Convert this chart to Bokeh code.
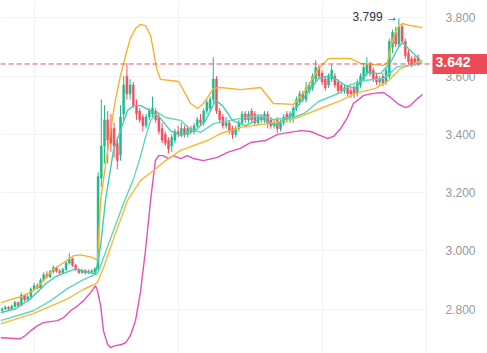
from bokeh.plotting import figure
from bokeh.models import (Range1d, FixedTicker, PrintfTickFormatter, Span, Label, Grid,
                          ColumnDataSource, BoxAnnotation)
from bokeh.embed import file_html
from bokeh.resources import INLINE

# ---- candles (index, open, high, low, close) ----
opens = [2.795, 2.800, 2.806, 2.801, 2.809, 2.822, 2.812, 2.848, 2.832, 2.842,
         2.868, 2.880, 2.872, 2.898, 2.918, 2.910, 2.928, 2.942, 2.930, 2.925,
         2.936, 2.958, 2.972, 2.950, 2.936, 2.925, 2.932, 2.924, 2.930, 2.926,
         2.938, 3.250, 3.360, 3.450, 3.420, 3.420, 3.370, 3.330, 3.470, 3.600,
         3.540, 3.570, 3.500, 3.480, 3.460, 3.430, 3.460, 3.470, 3.480, 3.460,
         3.420, 3.400, 3.380, 3.360, 3.380, 3.410, 3.400, 3.420, 3.400, 3.420,
         3.410, 3.430, 3.450, 3.440, 3.480, 3.490, 3.520, 3.590, 3.480, 3.460,
         3.430, 3.440, 3.420, 3.400, 3.420, 3.440, 3.470, 3.450, 3.480, 3.470,
         3.440, 3.460, 3.450, 3.470, 3.450, 3.430, 3.450, 3.420, 3.440, 3.470,
         3.450, 3.460, 3.490, 3.510, 3.540, 3.520, 3.550, 3.560, 3.590, 3.630,
         3.610, 3.590, 3.570, 3.590, 3.600, 3.580, 3.570, 3.550, 3.560, 3.550,
         3.560, 3.540, 3.570, 3.590, 3.610, 3.640, 3.620, 3.600, 3.580, 3.600,
         3.580, 3.600, 3.700, 3.750, 3.710, 3.770, 3.720, 3.680, 3.660, 3.660,
         3.665]
highs = [2.806, 2.812, 2.810, 2.815, 2.828, 2.826, 2.856, 2.852, 2.850, 2.874,
         2.890, 2.888, 2.905, 2.926, 2.930, 2.935, 2.950, 2.946, 2.938, 2.942,
         2.965, 2.992, 2.976, 2.955, 2.940, 2.938, 2.937, 2.936, 2.938, 2.944,
         3.270, 3.520, 3.500, 3.480, 3.470, 3.440, 3.390, 3.500, 3.600, 3.645,
         3.590, 3.580, 3.520, 3.490, 3.470, 3.470, 3.490, 3.530, 3.490, 3.470,
         3.440, 3.410, 3.390, 3.400, 3.420, 3.430, 3.440, 3.430, 3.430, 3.430,
         3.440, 3.460, 3.470, 3.490, 3.520, 3.530, 3.665, 3.600, 3.490, 3.470,
         3.460, 3.450, 3.430, 3.430, 3.450, 3.480, 3.480, 3.480, 3.490, 3.480,
         3.470, 3.470, 3.480, 3.480, 3.460, 3.450, 3.460, 3.450, 3.470, 3.480,
         3.480, 3.500, 3.530, 3.550, 3.550, 3.580, 3.580, 3.610, 3.655, 3.640,
         3.620, 3.600, 3.610, 3.640, 3.610, 3.590, 3.580, 3.570, 3.570, 3.560,
         3.570, 3.590, 3.610, 3.640, 3.665, 3.650, 3.630, 3.610, 3.600, 3.610,
         3.630, 3.730, 3.760, 3.770, 3.799, 3.780, 3.730, 3.690, 3.670, 3.670,
         3.675]
lows = [2.790, 2.797, 2.796, 2.798, 2.805, 2.806, 2.810, 2.826, 2.828, 2.838,
        2.862, 2.868, 2.868, 2.894, 2.905, 2.906, 2.922, 2.925, 2.918, 2.920,
        2.930, 2.952, 2.945, 2.930, 2.920, 2.921, 2.919, 2.920, 2.922, 2.922,
        2.930, 3.220, 3.300, 3.300, 3.340, 3.320, 3.280, 3.310, 3.450, 3.520,
        3.520, 3.490, 3.450, 3.440, 3.410, 3.420, 3.450, 3.460, 3.440, 3.400,
        3.370, 3.360, 3.335, 3.340, 3.370, 3.390, 3.390, 3.390, 3.390, 3.400,
        3.400, 3.420, 3.430, 3.430, 3.470, 3.480, 3.510, 3.470, 3.440, 3.420,
        3.420, 3.400, 3.385, 3.390, 3.410, 3.430, 3.440, 3.440, 3.440, 3.430,
        3.430, 3.440, 3.440, 3.420, 3.420, 3.420, 3.405, 3.410, 3.430, 3.440,
        3.440, 3.440, 3.480, 3.500, 3.510, 3.510, 3.540, 3.550, 3.580, 3.590,
        3.570, 3.550, 3.560, 3.580, 3.560, 3.540, 3.540, 3.540, 3.530, 3.525,
        3.525, 3.530, 3.560, 3.580, 3.600, 3.600, 3.580, 3.570, 3.570, 3.565,
        3.570, 3.590, 3.680, 3.700, 3.700, 3.710, 3.660, 3.640, 3.630, 3.635,
        3.635]
closes = [2.800, 2.806, 2.801, 2.809, 2.822, 2.812, 2.848, 2.832, 2.842, 2.868,
          2.880, 2.872, 2.898, 2.918, 2.910, 2.928, 2.942, 2.930, 2.925, 2.936,
          2.958, 2.972, 2.950, 2.936, 2.925, 2.932, 2.924, 2.930, 2.926, 2.938,
          3.255, 3.360, 3.450, 3.380, 3.370, 3.360, 3.310, 3.460, 3.570, 3.540,
          3.570, 3.500, 3.470, 3.450, 3.430, 3.460, 3.480, 3.490, 3.450, 3.410,
          3.380, 3.370, 3.350, 3.390, 3.410, 3.400, 3.420, 3.400, 3.420, 3.410,
          3.430, 3.450, 3.440, 3.480, 3.510, 3.520, 3.590, 3.480, 3.450, 3.430,
          3.440, 3.410, 3.400, 3.420, 3.440, 3.470, 3.450, 3.470, 3.450, 3.440,
          3.460, 3.450, 3.470, 3.440, 3.430, 3.440, 3.420, 3.440, 3.460, 3.450,
          3.470, 3.490, 3.520, 3.540, 3.520, 3.560, 3.570, 3.600, 3.630, 3.600,
          3.580, 3.560, 3.600, 3.620, 3.570, 3.550, 3.550, 3.560, 3.540, 3.540,
          3.540, 3.580, 3.600, 3.630, 3.640, 3.610, 3.590, 3.580, 3.590, 3.575,
          3.620, 3.720, 3.750, 3.710, 3.770, 3.720, 3.670, 3.650, 3.640, 3.645,
          3.642]
idx = list(range(len(closes)))

# ---- indicator lines (candle index, value) ----
bb_up_x = [-0.5, 2.6, 5.8, 9.8, 12.9, 16.1, 19.2, 22.3, 24.5, 27.6, 29.8, 30.8, 32.3, 33.9, 35.4,
           37.0, 38.6, 40.1, 41.7, 43.3, 44.8, 46.4, 47.3, 48.3, 49.5, 52.6, 55.1, 56.7, 58.9,
           61.1, 62.9, 66.1, 68.3, 74.5, 80.8, 84.8, 91.1, 94.8, 98.9, 102.0, 108.9, 112.0,
           119.2, 120.4, 122.0, 123.6, 125.1, 127.6, 131.4]
bb_up_y = [2.821, 2.832, 2.842, 2.863, 2.897, 2.938, 2.959, 2.983, 2.986, 2.979, 2.969, 3.173,
           3.293, 3.413, 3.517, 3.602, 3.671, 3.730, 3.764, 3.778, 3.774, 3.740, 3.688, 3.626,
           3.589, 3.585, 3.582, 3.551, 3.506, 3.489, 3.506, 3.558, 3.561, 3.554, 3.561, 3.506,
           3.503, 3.551, 3.626, 3.661, 3.661, 3.644, 3.637, 3.647, 3.723, 3.767, 3.781, 3.774,
           3.767]
bb_lo_x = [-0.5, 5.8, 7.3, 8.9, 11.1, 12.9, 17.3, 19.2, 21.4, 23.6, 25.4, 27.6, 29.2, 29.8,
           30.8, 31.7, 32.9, 33.9, 35.4, 37.0, 38.6, 40.1, 41.7, 43.3, 44.8, 46.4, 47.9, 48.9,
           50.4, 52.0, 53.6, 55.8, 57.9, 59.8, 62.9, 67.3, 70.4, 74.5, 77.6, 82.3, 86.1, 93.3,
           96.4, 99.5, 101.7, 103.6, 105.8, 107.9, 109.8, 113.0, 116.1, 119.2, 121.4, 123.6,
           126.1, 127.6, 129.8, 131.4]
bb_lo_y = [2.701, 2.698, 2.709, 2.725, 2.743, 2.753, 2.760, 2.770, 2.794, 2.811, 2.828, 2.856,
           2.880, 2.863, 2.811, 2.725, 2.680, 2.667, 2.674, 2.677, 2.684, 2.709, 2.760, 2.863,
           3.001, 3.173, 3.310, 3.327, 3.327, 3.317, 3.327, 3.317, 3.327, 3.317, 3.310, 3.321,
           3.338, 3.352, 3.372, 3.379, 3.400, 3.413, 3.410, 3.396, 3.386, 3.393, 3.420, 3.458,
           3.506, 3.534, 3.541, 3.544, 3.527, 3.506, 3.492, 3.499, 3.523, 3.537]
ma_mid_x = [-0.5, 9.8, 15.1, 20.4, 25.4, 29.8, 30.8, 32.3, 33.9, 37.9, 41.1, 43.3, 44.8, 46.4,
            48.6, 51.1, 55.8, 58.9, 62.0, 66.1, 74.5, 80.8, 84.8, 91.1, 94.8, 98.9, 105.8,
            108.9, 113.0, 119.2, 123.6, 127.6, 131.4]
ma_mid_y = [2.760, 2.794, 2.828, 2.870, 2.901, 2.922, 2.949, 2.994, 3.042, 3.162, 3.248, 3.327,
            3.389, 3.448, 3.475, 3.458, 3.448, 3.417, 3.407, 3.437, 3.455, 3.465, 3.451, 3.458,
            3.475, 3.513, 3.544, 3.571, 3.585, 3.592, 3.633, 3.637, 3.647]
ma_fast_x = [-0.5, 4.2, 8.9, 13.6, 16.7, 19.8, 22.9, 26.1, 29.2, 30.8, 32.3, 34.8, 37.0, 39.2,
             41.1, 43.3, 46.4, 49.5, 52.6, 55.8, 60.4, 63.6, 66.7, 68.9, 72.0, 76.1, 80.8,
             85.4, 90.1, 94.8, 98.9, 102.6, 107.3, 110.4, 114.2, 118.3, 121.4, 123.6, 125.1,
             127.6, 130.8]
ma_fast_y = [2.787, 2.801, 2.835, 2.887, 2.911, 2.925, 2.938, 2.928, 2.921, 3.018, 3.173, 3.345,
             3.413, 3.482, 3.499, 3.499, 3.482, 3.455, 3.413, 3.396, 3.413, 3.448, 3.517, 3.499,
             3.448, 3.430, 3.455, 3.430, 3.465, 3.534, 3.592, 3.602, 3.568, 3.558, 3.613, 3.609,
             3.647, 3.695, 3.716, 3.688, 3.654]
ma_slow_x = [-0.5, 9.8, 20.4, 25.4, 29.8, 31.7, 35.4, 39.2, 43.3, 47.3, 51.1, 55.8, 64.2, 68.3,
             74.5, 85.4, 91.7, 99.5, 105.8, 110.4, 116.7, 120.8, 124.5, 131.4]
ma_slow_y = [2.749, 2.784, 2.835, 2.867, 2.890, 2.942, 3.059, 3.173, 3.242, 3.276, 3.310, 3.345,
             3.379, 3.403, 3.424, 3.441, 3.455, 3.489, 3.516, 3.541, 3.558, 3.585, 3.626, 3.654]

y_ticks = [2.8, 3.0, 3.2, 3.4, 3.6, 3.8]
grid_x = [10, 55, 100]
last_price = 3.642
high_price = 3.799
high_idx = 124

X_START, X_EDGE, X_END = -0.5, 132.625, 151.69   # chart area ends at X_EDGE, price scale beyond
UP, DOWN = "#1fba8c", "#f2505f"

p = figure(width=487, height=353, x_range=Range1d(X_START, X_END), y_range=Range1d(2.6471, 3.8601),
           x_axis_location=None, y_axis_location="right", toolbar_location=None,
           output_backend="svg", min_border=0, background_fill_color="white",
           border_fill_color="white")
p.outline_line_color = None
p.xgrid.visible = False
p.add_layout(Grid(dimension=0, ticker=FixedTicker(ticks=grid_x), grid_line_color="#f3f3f3"))
p.ygrid.ticker = FixedTicker(ticks=y_ticks)
p.ygrid.grid_line_color = "#f3f3f3"

# white panel behind the price scale (hides grid lines there)
p.add_layout(BoxAnnotation(left=X_EDGE, fill_color="white", fill_alpha=1, line_color=None,
                           level="underlay"))

ax = p.yaxis[0]
ax.fixed_location = X_EDGE
ax.ticker = FixedTicker(ticks=y_ticks)
ax.formatter = PrintfTickFormatter(format="%.3f")
ax.major_tick_line_color = None
ax.minor_tick_line_color = None
ax.axis_line_color = "#f0f0f0"
ax.major_label_standoff = 13
ax.major_label_text_font = "Liberation Sans"
ax.major_label_text_font_size = "12px"
ax.major_label_text_color = "#999999"

colors = [UP if c >= o else DOWN for o, c in zip(opens, closes)]
src = ColumnDataSource(dict(x=idx, o=opens, h=highs, l=lows, c=closes,
                            top=[max(o, c) for o, c in zip(opens, closes)],
                            bot=[min(o, c) for o, c in zip(opens, closes)],
                            col=colors))
p.segment(x0="x", y0="h", x1="x", y1="l", color="col", line_width=1, source=src)
p.vbar(x="x", width=0.62, top="top", bottom="bot", fill_color="col", line_color="col",
       line_width=0.5, source=src)

p.line(bb_up_x, bb_up_y, line_color="#f7b22e", line_width=1.4)
p.line(bb_lo_x, bb_lo_y, line_color="#e850b8", line_width=1.4)
p.line(ma_slow_x, ma_slow_y, line_color="#f9b933", line_width=1.4)
p.line(ma_mid_x, ma_mid_y, line_color="#5fd6c0", line_width=1.4)
p.line(ma_fast_x, ma_fast_y, line_color="#3fcfb2", line_width=1.4)

p.add_layout(Span(location=last_price, dimension="width", line_color="#ef4f5c",
                  line_dash="5 3", line_width=1))

p.add_layout(Label(x=X_EDGE, y=last_price, text="%.3f" % last_price, text_color="white",
                   text_font="Liberation Sans", text_font_style="bold", text_font_size="14px",
                   text_baseline="middle", text_align="left", x_offset=6,
                   background_fill_color="#ec4a57", padding=(3, 40, 3, 7)))
p.add_layout(Label(x=high_idx, y=high_price, text="%.3f \u2192" % high_price, text_color="#2a3042",
                   text_font="Liberation Sans", text_font_size="12px", text_baseline="middle",
                   text_align="right", x_offset=-1, y_offset=1))

open("out.html", "w").write(file_html(p, INLINE))
